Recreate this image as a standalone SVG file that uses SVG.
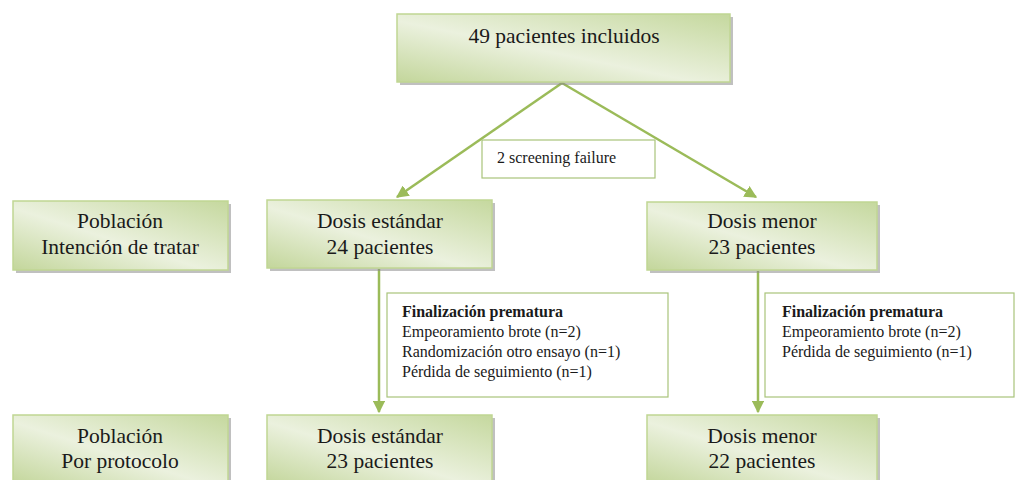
<svg xmlns="http://www.w3.org/2000/svg" width="1015" height="480" viewBox="0 0 1015 480">
<defs>
<linearGradient id="g" x1="0" y1="1" x2="1" y2="0">
<stop offset="0" stop-color="#c3d69b"/>
<stop offset="0.45" stop-color="#ebf1de"/>
<stop offset="1" stop-color="#c5d89e"/>
</linearGradient>
<marker id="ah" viewBox="0 0 10 10" refX="9" refY="5" markerWidth="5" markerHeight="5" orient="auto" markerUnits="strokeWidth">
<path d="M0,0 L10,5 L0,10 Z" fill="#9bbb59"/>
</marker>
</defs>
<rect width="1015" height="480" fill="#ffffff"/>
<g id="connectors" stroke="#9bbb59" stroke-width="2.5" fill="none">
<path d="M562,83 L397,197" marker-end="url(#ah)"/>
<path d="M562,83 L756,197" marker-end="url(#ah)"/>
<path d="M379,269 L379,412" marker-end="url(#ah)"/>
<path d="M758,271 L758,412" marker-end="url(#ah)"/>
</g>
<g font-family="Times New Roman, Liberation Serif, serif" fill="#1a1a1a">
<g id="n_top">
<rect x="400" y="17" width="333" height="68" fill="#8c8c8c" opacity="0.55"/>
<rect x="397" y="14" width="333" height="68" fill="url(#g)" stroke="#c0d693" stroke-width="1.5"/>
<text x="564" y="43" font-size="21.5" text-anchor="middle">49 pacientes incluidos</text>
</g>
<g id="n_screen">
<rect x="482" y="140" width="173" height="38" fill="#ffffff" stroke="#a9c47a" stroke-width="1.2"/>
<text x="497" y="163" font-size="16">2 screening failure</text>
</g>
<g id="n_itt">
<rect x="16" y="204" width="215" height="69" fill="#8c8c8c" opacity="0.55"/>
<rect x="13" y="201" width="215" height="69" fill="url(#g)" stroke="#c0d693" stroke-width="1.5"/>
<text x="120" y="228" font-size="21.5" text-anchor="middle">Población</text>
<text x="120" y="254" font-size="21.5" text-anchor="middle">Intención de tratar</text>
</g>
<g id="n_std1">
<rect x="270" y="203" width="225" height="68" fill="#8c8c8c" opacity="0.55"/>
<rect x="267" y="200" width="225" height="68" fill="url(#g)" stroke="#c0d693" stroke-width="1.5"/>
<text x="380" y="228" font-size="21.5" text-anchor="middle">Dosis estándar</text>
<text x="380" y="254" font-size="21.5" text-anchor="middle">24 pacientes</text>
</g>
<g id="n_low1">
<rect x="650" y="205" width="230" height="68" fill="#8c8c8c" opacity="0.55"/>
<rect x="647" y="202" width="230" height="68" fill="url(#g)" stroke="#c0d693" stroke-width="1.5"/>
<text x="762" y="228" font-size="21.5" text-anchor="middle">Dosis menor</text>
<text x="762" y="254" font-size="21.5" text-anchor="middle">23 pacientes</text>
</g>
<g id="n_fin1" font-size="16">
<rect x="387" y="293" width="281" height="104" fill="#ffffff" stroke="#a9c47a" stroke-width="1.2"/>
<text x="402" y="317" font-weight="bold">Finalización prematura</text>
<text x="402" y="337">Empeoramiento brote (n=2)</text>
<text x="402" y="357">Randomización otro ensayo (n=1)</text>
<text x="402" y="377">Pérdida de seguimiento (n=1)</text>
</g>
<g id="n_fin2" font-size="16">
<rect x="765" y="293" width="249" height="104" fill="#ffffff" stroke="#a9c47a" stroke-width="1.2"/>
<text x="782" y="317" font-weight="bold">Finalización prematura</text>
<text x="782" y="337">Empeoramiento brote (n=2)</text>
<text x="782" y="357">Pérdida de seguimiento (n=1)</text>
</g>
<g id="n_pp">
<rect x="16" y="418" width="215" height="69" fill="#8c8c8c" opacity="0.55"/>
<rect x="13" y="415" width="215" height="69" fill="url(#g)" stroke="#c0d693" stroke-width="1.5"/>
<text x="120" y="443" font-size="21.5" text-anchor="middle">Población</text>
<text x="120" y="468" font-size="21.5" text-anchor="middle">Por protocolo</text>
</g>
<g id="n_std2">
<rect x="270" y="418" width="225" height="69" fill="#8c8c8c" opacity="0.55"/>
<rect x="267" y="415" width="225" height="69" fill="url(#g)" stroke="#c0d693" stroke-width="1.5"/>
<text x="380" y="443" font-size="21.5" text-anchor="middle">Dosis estándar</text>
<text x="380" y="468" font-size="21.5" text-anchor="middle">23 pacientes</text>
</g>
<g id="n_low2">
<rect x="650" y="418" width="230" height="69" fill="#8c8c8c" opacity="0.55"/>
<rect x="647" y="415" width="230" height="69" fill="url(#g)" stroke="#c0d693" stroke-width="1.5"/>
<text x="762" y="443" font-size="21.5" text-anchor="middle">Dosis menor</text>
<text x="762" y="468" font-size="21.5" text-anchor="middle">22 pacientes</text>
</g>
</g>
</svg>
